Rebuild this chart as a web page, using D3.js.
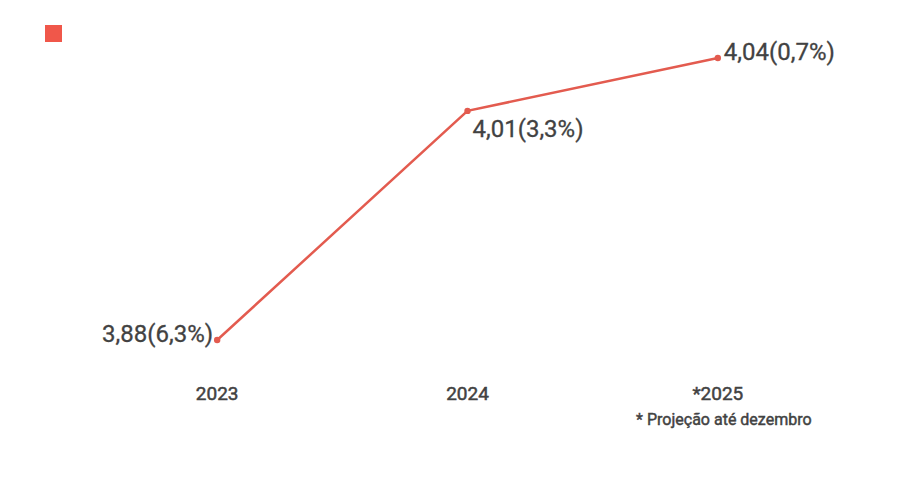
<!DOCTYPE html>
<html><head><meta charset="utf-8">
<script src="https://cdn.jsdelivr.net/npm/d3@7"></script>
<style>body{margin:0;background:#fff;}svg{display:block;font-family:Roboto,sans-serif;}</style>
</head><body>
<svg id="c" width="902" height="494"></svg>
<script>
const categories = ["2023", "2024", "*2025"];
const values = [3.88, 4.01, 4.04];
const growth = ["6,3%", "3,3%", "0,7%"];
const footnote = "* Projeção até dezembro";

const svg = d3.select("#c");
const color = "#e35b4f";
const textColor = "#424242";

const x = d3.scaleBand().domain(categories).range([92, 843]);
const y = d3.scaleLinear().domain([3.88, 4.04]).range([340, 58]);
const cx = d => x(d) + x.bandwidth() / 2;

// legend square
svg.append("rect").attr("x", 45).attr("y", 25).attr("width", 17).attr("height", 17).attr("fill", "#f0574a");

const data = categories.map((c, i) => ({c, v: values[i], g: growth[i]}));

svg.append("path").datum(data)
  .attr("d", d3.line().x(d => cx(d.c)).y(d => y(d.v)))
  .attr("fill", "none").attr("stroke", color).attr("stroke-width", 2.5);

svg.selectAll("circle.pt").data(data).join("circle")
  .attr("cx", d => cx(d.c)).attr("cy", d => y(d.v)).attr("r", 3.2).attr("fill", color);

const fmt = v => v.toFixed(2).replace(".", ",");
const labelPos = [
  {dx: -4, dy: -4, anchor: "end"},
  {dx: 5, dy: 20, anchor: "start"},
  {dx: 6, dy: -4, anchor: "start"}
];
svg.selectAll("text.val").data(data).join("text")
  .attr("x", (d, i) => cx(d.c) + labelPos[i].dx)
  .attr("y", (d, i) => y(d.v) + labelPos[i].dy)
  .attr("dominant-baseline", "middle")
  .attr("text-anchor", (d, i) => labelPos[i].anchor)
  .attr("font-size", 24).attr("font-weight", 400).attr("fill", textColor)
  .attr("stroke", textColor).attr("stroke-width", 0.3)
  .text(d => `${fmt(d.v)}(${d.g})`);

// x axis labels
const ax = svg.append("g").attr("transform", "translate(0,400)")
  .call(d3.axisBottom(x).tickSize(0).tickPadding(0));
ax.select(".domain").remove();
ax.selectAll("text").attr("font-size", 19).attr("font-weight", 400).attr("fill", textColor)
  .attr("stroke", textColor).attr("stroke-width", 0.5)
  .attr("font-family", "Roboto,sans-serif").attr("dy", "0").attr("y", 0);

svg.append("text").attr("x", cx("*2025") + 6).attr("y", 425).attr("text-anchor", "middle")
  .attr("font-size", 16).attr("font-weight", 400).attr("fill", textColor)
  .attr("stroke", textColor).attr("stroke-width", 0.45).text(footnote);
</script>
</body></html>
